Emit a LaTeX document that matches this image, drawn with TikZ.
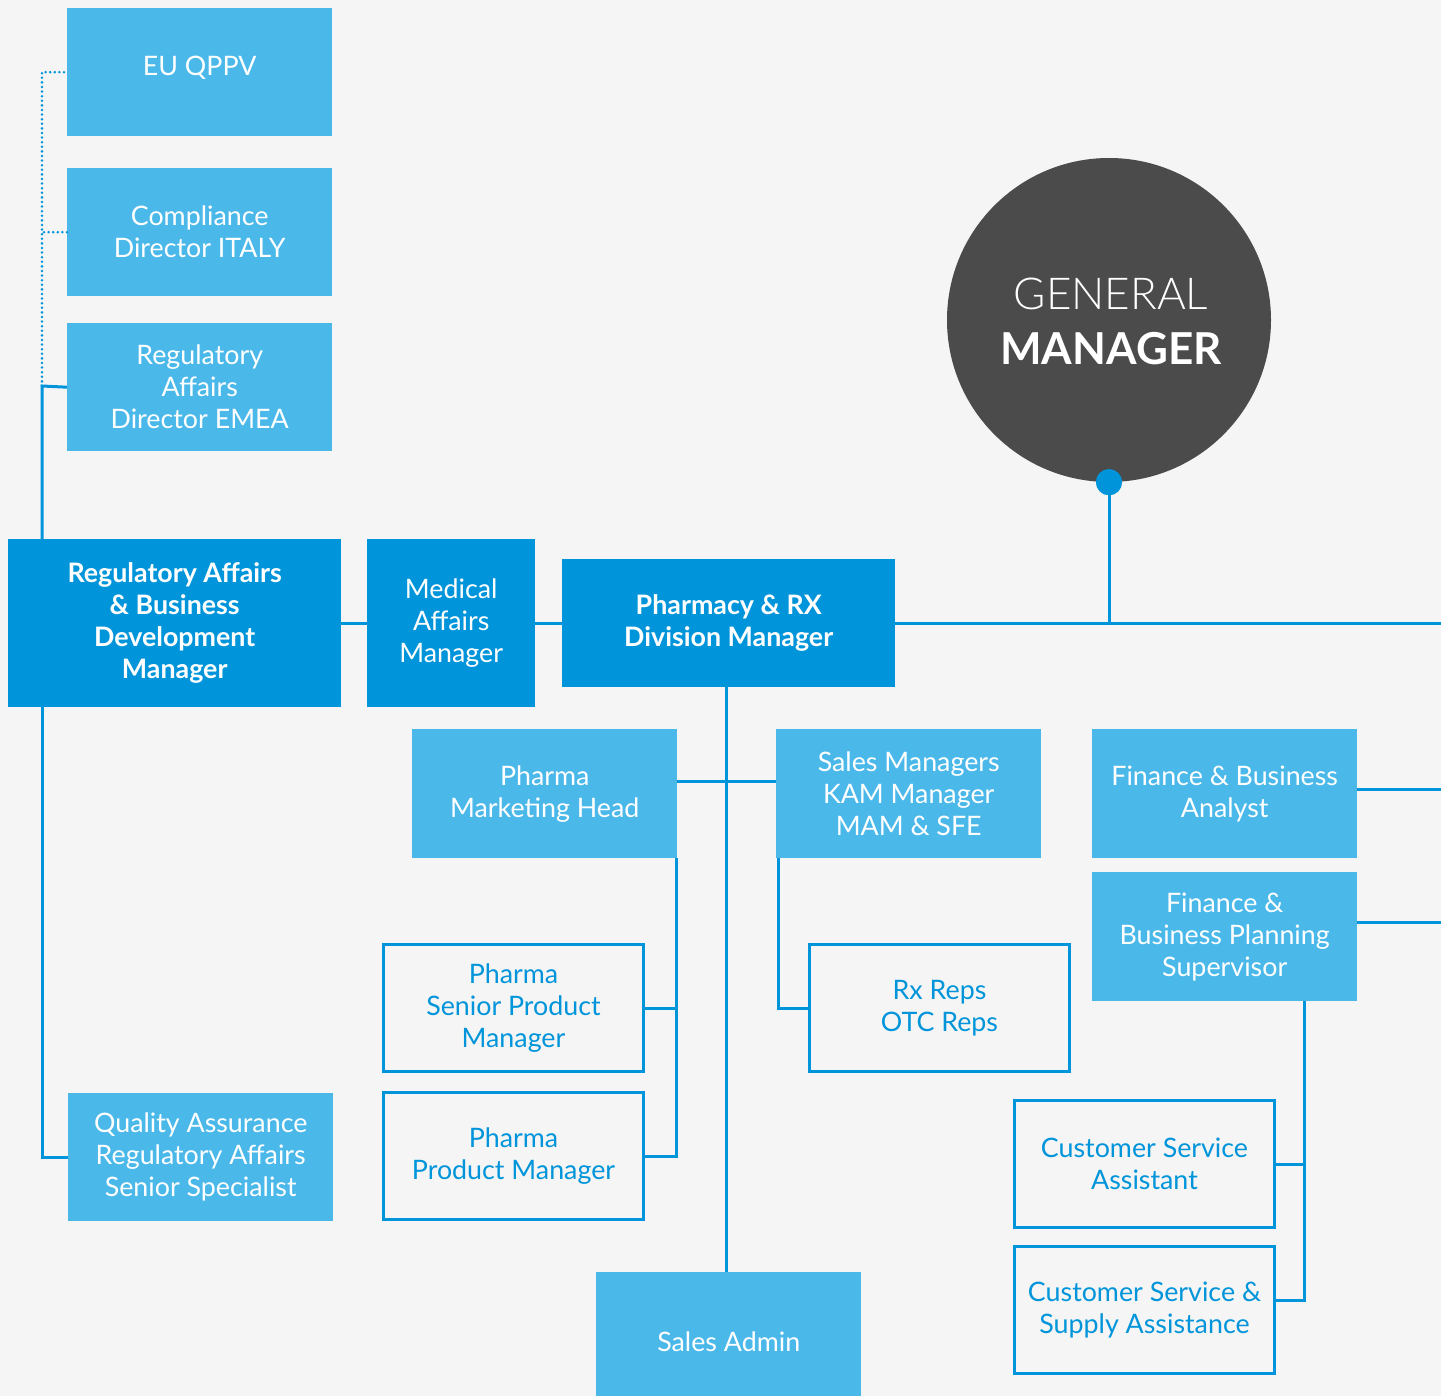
\documentclass[tikz,border=0pt]{standalone}
\usepackage{fontspec}
\setmainfont{Lato}
\newfontfamily\gmlight{Lato Light}
\definecolor{bg}{HTML}{F5F5F5}
\definecolor{dblue}{HTML}{0095DA}
\definecolor{lblue}{HTML}{4BB8EA}
\definecolor{gmgray}{HTML}{4A4B4A}
\begin{document}
\begin{tikzpicture}[x=1pt,y=-1pt,
  base/.style={inner sep=0pt, align=center, anchor=north west,
    font=\fontsize{26.8}{32}\selectfont},
  dbox/.style={base, fill=dblue, text=white},
  lbox/.style={base, fill=lblue, text=white},
  obox/.style={base, draw=dblue, line width=3pt, fill=bg, text=dblue,
    minimum width=260pt, minimum height=127pt},
  conn/.style={draw=dblue, line width=3pt},
  dotline/.style={draw=dblue, line width=2.8pt, line cap=round, dash pattern=on 0pt off 4.6pt}]
\fill[bg] (0,0) rectangle (1441,1396);
\useasboundingbox (0,0) rectangle (1441,1396);

% GM
\node[circle, fill=gmgray, minimum size=324pt, inner sep=0pt] (gm) at (1109,320) {};
\node[text=white, font=\fontsize{44}{55}\selectfont\gmlight, anchor=base] (gmt1) at (1111,310) {GENERAL};
\node[text=white, font=\fontsize{44}{55}\selectfont\bfseries, anchor=base] (gmt2) at (1111,365) {MANAGER};
\node[circle, fill=dblue, minimum size=26pt, inner sep=0pt] (dot) at (gm.south) {};

% top-left column
\node[lbox, minimum width=265pt, minimum height=128pt, text depth=12pt] (eu) at (67,8) {EU QPPV};
\node[lbox, minimum width=265pt, minimum height=128pt] (comp) at (67,168) {Compliance\\Director ITALY};
\node[lbox, minimum width=265pt, minimum height=128pt] (radir) at (67,323) {Regulatory\\Affairs\\Director EMEA};

% main row
\node[dbox, minimum width=333pt, minimum height=168pt, font=\fontsize{26.8}{32}\selectfont\bfseries] (ramgr) at (8,539)
  {Regulatory Affairs\\\& Business\\Development\\Manager};
\node[dbox, minimum width=168pt, minimum height=168pt] (med) at (367,539) {Medical\\Affairs\\Manager};
\node[dbox, minimum width=333pt, minimum height=128pt, font=\fontsize{26.8}{32}\selectfont\bfseries] (pharm) at (562,559)
  {Pharmacy \& RX\\Division Manager};

% second row
\node[lbox, minimum width=265pt, minimum height=129pt] (pmh) at (412,729) {Pharma\\Marketing Head};
\node[lbox, minimum width=265pt, minimum height=129pt] (sm) at (776,729) {Sales Managers\\KAM Manager\\MAM \& SFE};
\node[lbox, minimum width=265pt, minimum height=129pt] (fba) at (1092,729) {Finance \& Business\\Analyst};
\node[lbox, minimum width=265pt, minimum height=129pt] (fbps) at (1092,872) {Finance \&\\Business Planning\\Supervisor};

% outlined boxes
\node[obox] (pspm) at (382,943) {Pharma\\Senior Product\\Manager};
\node[obox] (ppm) at (382,1091) {Pharma\\Product Manager};
\node[obox] (rx) at (808,943) {Rx Reps\\OTC Reps};
\node[obox] (csa) at (1013,1099) {Customer Service\\Assistant};
\node[obox] (cssa) at (1013,1245) {Customer Service \&\\Supply Assistance};

% bottom
\node[lbox, minimum width=265pt, minimum height=128pt] (qa) at (68,1093) {Quality Assurance\\Regulatory Affairs\\Senior Specialist};
\node[lbox, minimum width=265pt, minimum height=140pt] (sa) at (596,1272) {Sales Admin};

% connectors
\coordinate (lsp) at (42,386);
\coordinate (redge) at (1441,0);
\draw[conn] (radir.west) -- (lsp) -- (lsp |- ramgr.north);
\draw[conn] (lsp |- ramgr.south) |- (qa.west);
\draw[dotline] (lsp) |- (eu.west);
\draw[dotline] (comp.west) -- (comp.west -| lsp);
\draw[conn] (ramgr.east) -- (med.west);
\draw[conn] (med.east) -- (pharm.west);
\draw[conn] (pharm.east) -- (pharm.east -| redge);
\draw[conn] (dot.center) -- (dot.center |- pharm.east);
\node[circle, fill=dblue, minimum size=26pt, inner sep=0pt] at (dot) {};
\draw[conn] ([xshift=-2.5pt]pharm.south) -- ([xshift=-2.5pt]pharm.south |- sa.north);
\draw[conn] ([yshift=12.5pt]pmh.east) -- ([yshift=12.5pt]pmh.east -| sm.west);
\draw[conn] ([xshift=-1pt]pmh.south east) |- (pspm.east);
\draw[conn] ([xshift=-1pt]pmh.south east) |- (ppm.east);
\draw[conn] ([xshift=2pt]sm.south west) |- (rx.west);
\draw[conn] ([yshift=4.5pt]fba.east) -- ([yshift=4.5pt]fba.east -| redge);
\draw[conn] ([yshift=14.5pt]fbps.east) -- ([yshift=14.5pt]fbps.east -| redge);
\draw[conn] ([xshift=-53pt]fbps.south east) |- (csa.east);
\draw[conn] ([xshift=-53pt]fbps.south east) |- ([yshift=10pt]cssa.east);
\end{tikzpicture}
\end{document}
